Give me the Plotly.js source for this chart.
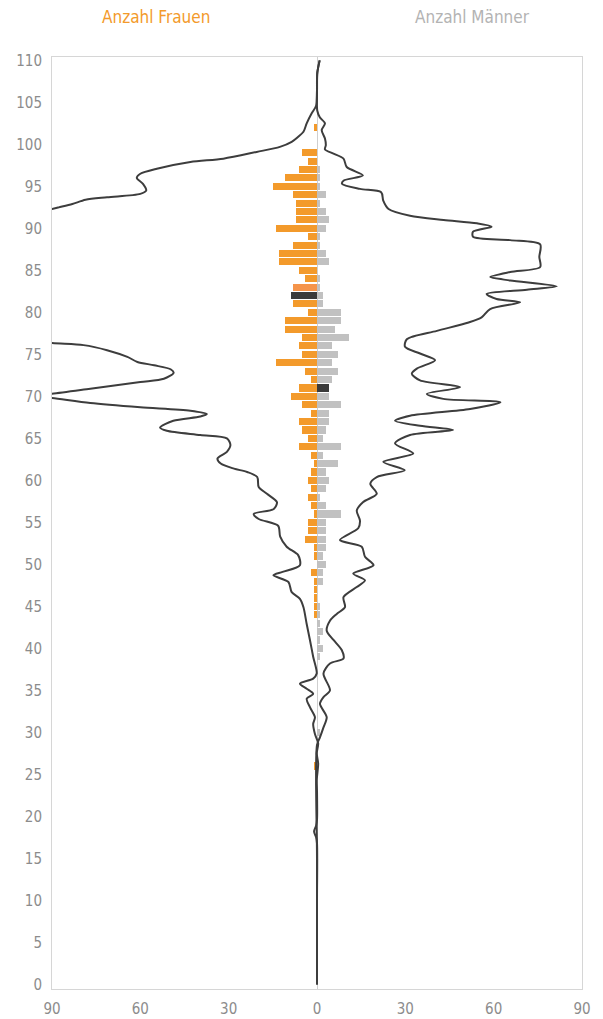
<!DOCTYPE html>
<html>
<head>
<meta charset="utf-8">
<script src="https://cdn.plot.ly/plotly-3.0.1.min.js"></script>
<style>
html,body{margin:0;padding:0;background:#fff;}
#chart{width:603px;height:1019px;}
</style>
</head>
<body>
<div id="chart"></div>
<script>
// ---- bar data (counts per age) ----
const barAges = [102,101,100,99,98,97,96,95,94,93,92,91,90,89,88,87,86,85,84,83,82,81,80,79,78,77,76,75,74,73,72,71,70,69,68,67,66,65,64,63,62,61,60,59,58,57,56,55,54,53,52,51,50,49,48,47,46,45,44,43,42,41,40,39,30,26];
const womenCounts = [1,0,0,5,3,6,11,15,8,7,7,7,14,3,8,13,13,6,4,8,9,8,3,11,11,5,6,5,14,4,2,6,9,5,2,6,5,3,6,2,1,2,3,2,3,2,1,3,3,4,1,1,0,2,1,1,1,1,1,0,0,0,0,0,0,1];
const menCounts = [0,0,0,0,0,1,1,1,3,1,3,4,3,1,1,3,4,0,1,1,2,2,8,8,6,11,5,7,5,7,5,4,4,8,4,4,3,2,8,2,7,3,4,3,1,3,8,3,3,3,3,2,3,2,2,0,0,1,1,1,2,1,2,1,1,0];
const highlightWomenAge = 82;
const highlightMenAge = 71;

// ---- curve data (smoothed outline) ----
const womenCurveAge = [0,10,16.8,17.5,18.2,18.9,19.6,23,24.3,26.3,27.5,28.7,29.8,31.0,31.8,33.0,34.0,34.6,35.2,35.8,36.4,37.0,39.0,41.0,42.9,44.9,45.9,46.7,47.9,48.7,49.1,49.9,51.1,52.1,53.3,54.6,55.4,56.0,56.6,57.4,58.4,59.2,60.4,61.0,61.4,62.0,62.6,63.4,64.2,65.0,65.4,65.9,66.3,67.1,67.6,67.9,68.3,68.7,69.2,69.8,70.05,70.3,70.9,71.7,72.1,72.8,73.2,73.7,74.1,74.7,75.5,76.1,76.35,77,80,84,88,91,92.3,92.5,92.9,93.4,93.7,94.1,94.5,95.3,96.0,96.5,97.1,97.9,98.3,99.1,99.7,100.3,100.9,101.5,102.5,103.7,104.6,106.4,108.5,110];
const womenCurveVal = [0,0,0,-0.3,-1.0,-0.3,0,0,-0.1,0.4,-0.1,0.4,-0.7,-1.3,-0.7,-2.4,-3.5,-1.3,-3.5,-5.8,-1.3,-0.1,-1.3,-2.4,-3.5,-4.6,-5.8,-8.6,-9.7,-14.8,-11.7,-5.8,-6.4,-10.3,-12.5,-13.2,-19.8,-21.5,-14.7,-13.6,-17.0,-19.8,-20.3,-23.7,-28.2,-32.7,-33.8,-30.6,-29.4,-30.6,-39.6,-51.0,-53.3,-48.8,-39.6,-37.4,-43.0,-60.0,-77.0,-90,-97,-90,-77.0,-60.0,-52.0,-48.7,-49.6,-55.3,-61.0,-64.4,-71.3,-79.3,-90,-110,-125,-130,-120,-105,-90,-87.7,-83.1,-78.6,-71.3,-60.0,-58.0,-59.1,-61.2,-60.0,-54.4,-43.0,-31.8,-20.5,-12.6,-8.6,-6.4,-4.6,-3.5,-1.8,-0.3,0,0.1,0.9];

const menCurveAge = [0,15,28.5,29.4,30.6,31.8,33.4,34.2,35.0,37.0,38.2,38.8,39.8,41.0,42.1,43.3,44.1,44.9,46.1,47.3,48.1,48.9,49.9,50.9,52.1,52.9,54.3,55.2,56.4,57.4,58.4,59.6,60.4,61.2,62.2,63.2,64.4,65.4,66.0,66.5,67.1,67.7,68.5,69.3,69.7,70.3,71.1,71.9,72.7,73.3,74.3,75.1,75.9,76.8,77.8,78.8,79.4,80.4,81.2,81.6,82.2,82.7,83.1,83.8,84.2,84.8,85.4,86.6,88.1,88.6,89.0,89.6,90.2,90.6,91.0,91.5,92.3,93.3,94.3,94.7,95.3,95.7,96.3,97.3,98.3,98.9,99.4,99.9,100.7,101.7,102.5,103.2,104.0,106.4,108.5,110];
const menCurveVal = [0,0,0,1.0,2.2,3.3,1.0,2.2,4.4,2.2,4.4,9.0,8.4,5.6,3.3,4.4,6.7,9.5,9.0,13.5,16.3,12.3,19.2,16.3,15.2,7.8,14.0,14.6,13.5,15.6,20.3,18.1,20.3,29.8,22.5,32.7,26.5,31.6,46.2,35.0,26.5,31.6,52.0,62.3,42.9,37.3,48.6,35.0,32.2,33.9,40.1,35.0,29.9,30.5,40.7,51.5,55.9,58.8,69.0,61.0,57.6,71.3,81.4,65.6,58.8,65.6,75.8,75.5,75.8,65.6,53.0,53.0,59.3,54.3,43.0,31.6,24.3,22.5,21.8,14.6,8.5,9.1,15.6,10.1,9.0,5.6,2.7,3.0,2.7,1.6,2.7,1.0,0.1,0,0.1,0.9];

// ---- styles ----
const ORANGE = '#f39a2b';
const GRAY = '#c1c1c1';
const DARK = '#3a3a3a';
const LINE = '#3d3d3d';
const FONT = '"Liberation Sans Narrow", "DejaVu Sans Condensed", Roboto, sans-serif';

const womenColors = barAges.map(a => a === highlightWomenAge ? DARK : (a === 83 ? '#f5944a' : ORANGE));
const menColors = barAges.map(a => a === highlightMenAge ? DARK : GRAY);

const traces = [
  {
    type: 'bar', orientation: 'h',
    y: barAges, x: womenCounts.map(v => -v),
    width: 0.84,
    marker: {color: womenColors, line: {width: 0}},
    hoverinfo: 'skip', showlegend: false
  },
  {
    type: 'bar', orientation: 'h',
    y: barAges, x: menCounts,
    width: 0.84,
    marker: {color: menColors, line: {width: 0}},
    hoverinfo: 'skip', showlegend: false
  },
  {
    type: 'scatter', mode: 'lines',
    x: womenCurveVal, y: womenCurveAge,
    line: {color: LINE, width: 2, shape: 'spline', smoothing: 0.8},
    hoverinfo: 'skip', showlegend: false
  },
  {
    type: 'scatter', mode: 'lines',
    x: menCurveVal, y: menCurveAge,
    line: {color: LINE, width: 2, shape: 'spline', smoothing: 0.8},
    hoverinfo: 'skip', showlegend: false
  }
];

const yTicks = [];
for (let v = 0; v <= 110; v += 5) yTicks.push(v);
const xTicks = [-90,-60,-30,0,30,60,90];

const layout = {
  width: 603, height: 1019,
  margin: {l: 52, r: 21, t: 57, b: 30, pad: 0},
  paper_bgcolor: '#fff', plot_bgcolor: '#fff',
  barmode: 'overlay',
  bargap: 0,
  font: {family: FONT, size: 15, color: '#8c8c8c'},
  xaxis: {
    range: [-90, 90], fixedrange: true,
    tickvals: xTicks, ticktext: xTicks.map(v => String(Math.abs(v))),
    showgrid: false,
    zeroline: true, zerolinecolor: '#cfcfcf', zerolinewidth: 1,
    showline: true, linecolor: '#d6d6d6', linewidth: 1, mirror: true,
    ticks: 'outside', ticklen: 6, tickcolor: 'rgba(0,0,0,0)',
    tickfont: {family: FONT, size: 15, color: '#8c8c8c'}
  },
  yaxis: {
    range: [-0.55, 110.4], fixedrange: true,
    tickvals: yTicks,
    showgrid: false, zeroline: false,
    showline: true, linecolor: '#d6d6d6', linewidth: 1, mirror: true,
    ticks: 'outside', ticklen: 6, tickcolor: 'rgba(0,0,0,0)',
    tickfont: {family: FONT, size: 15, color: '#8c8c8c'}
  },
  annotations: [
    {text: 'Anzahl Frauen', xref: 'paper', yref: 'paper', x: 0.196, y: 1.043, xanchor: 'center', yanchor: 'middle', showarrow: false, font: {family: FONT, size: 17, color: ORANGE}},
    {text: 'Anzahl Männer', xref: 'paper', yref: 'paper', x: 0.794, y: 1.043, xanchor: 'center', yanchor: 'middle', showarrow: false, font: {family: FONT, size: 17, color: '#b3b3b3'}}
  ]
};

Plotly.newPlot('chart', traces, layout, {displayModeBar: false, staticPlot: true});
</script>
</body>
</html>
